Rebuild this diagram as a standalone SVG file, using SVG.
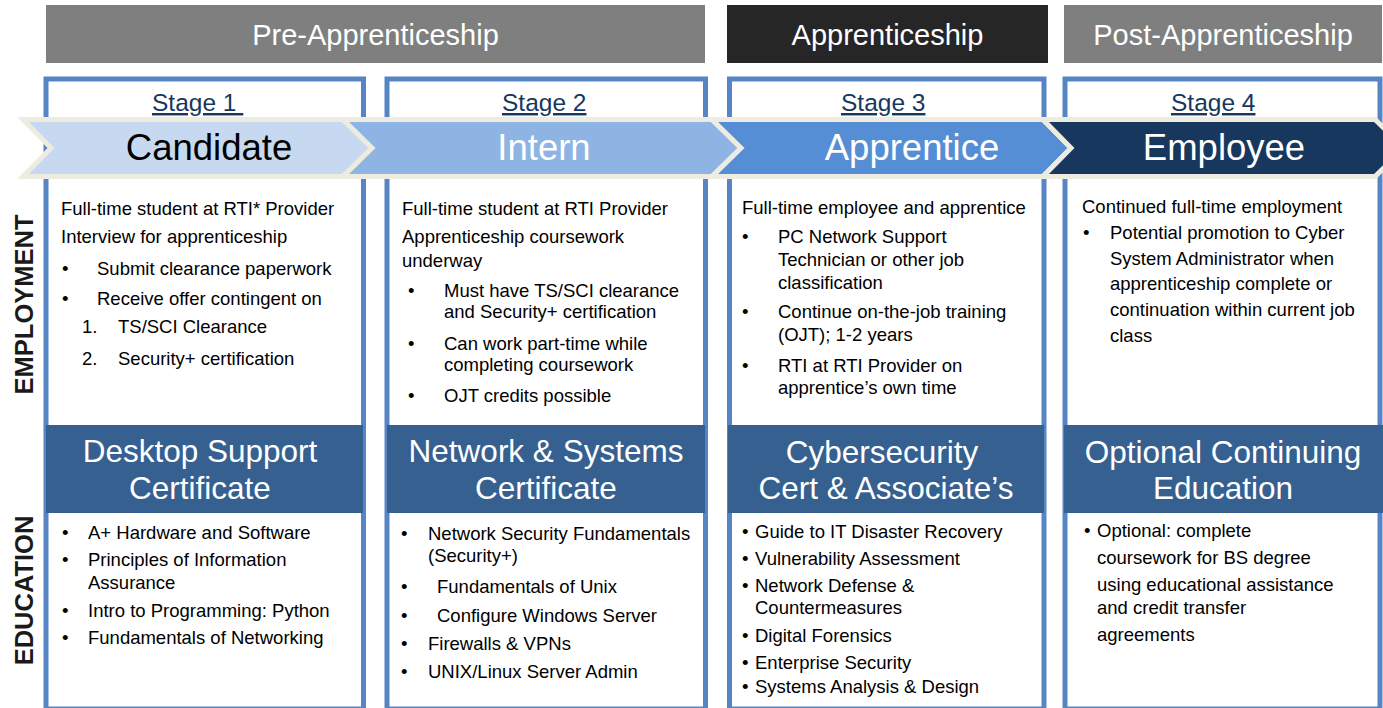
<svg xmlns="http://www.w3.org/2000/svg" width="1383" height="708" viewBox="0 0 1383 708">
<style>
text{font-family:"Liberation Sans",Arial,sans-serif}
.hdr{font-size:29px;fill:#FFFFFF;text-anchor:middle}
.box{fill:#FFFFFF;stroke:#5585C4;stroke-width:5}
.chev{stroke:#EEECE1;stroke-width:5;stroke-linejoin:miter}
.stage{font-size:24.5px;fill:#17375E;text-decoration:underline}
.ctitle{font-size:36.5px;text-anchor:middle}
.band{fill:#36608F}
.btitle{font-size:31.5px;fill:#FFFFFF;text-anchor:middle}
.t{font-size:18.5px;fill:#000000}
.side{font-size:25.5px;font-weight:bold;fill:#1A1A1A;text-anchor:middle}
</style>
<rect width="1383" height="708" fill="#FFFFFF"/>

<g id="phase-headers">
<rect x="46" y="5" width="659" height="58" fill="#7F7F7F"/>
<text class="hdr" x="375.5" y="45">Pre-Apprenticeship</text>
<rect x="727" y="5" width="321" height="58" fill="#262626"/>
<text class="hdr" x="887.5" y="45">Apprenticeship</text>
<rect x="1064" y="5" width="318" height="58" fill="#7F7F7F"/>
<text class="hdr" x="1223" y="45">Post-Apprenticeship</text>
</g>

<g id="side-labels">
<text class="side" transform="translate(33,304.5) rotate(-90)">EMPLOYMENT</text>
<text class="side" transform="translate(33,590.5) rotate(-90)">EDUCATION</text>
</g>

<g id="column-boxes">
<rect class="box" x="46" y="79" width="317.5" height="630"/>
<rect class="box" x="387" y="79" width="318.5" height="630"/>
<rect class="box" x="729.5" y="79" width="314.5" height="630"/>
<rect class="box" x="1065" y="79" width="315" height="630"/>
</g>

<g id="stage-labels">
<text class="stage" x="152" y="111">Stage 1&#160;</text>
<text class="stage" x="502" y="111">Stage 2</text>
<text class="stage" x="841" y="111">Stage 3</text>
<text class="stage" x="1171" y="111">Stage 4</text>
</g>

<g id="chevron-candidate">
<polygon class="chev" fill="#C6D9F1" points="23,119.5 343,119.5 372,148 343,176.5 23,176.5 51,148"/>
<text class="ctitle" x="209" y="160" fill="#000000">Candidate</text>
</g>
<g id="chevron-intern">
<polygon class="chev" fill="#8EB4E3" points="343,119.5 712,119.5 741,148 712,176.5 343,176.5 372,148"/>
<text class="ctitle" x="544" y="160" fill="#FFFFFF">Intern</text>
</g>
<g id="chevron-apprentice">
<polygon class="chev" fill="#558ED5" points="712,119.5 1043,119.5 1071,148 1043,176.5 712,176.5 741,148"/>
<text class="ctitle" x="912" y="160" fill="#FFFFFF">Apprentice</text>
</g>
<g id="chevron-employee">
<polygon class="chev" fill="#17375E" points="1043,119.5 1375,119.5 1404,148 1375,176.5 1043,176.5 1071,148"/>
<text class="ctitle" x="1224" y="160" fill="#FFFFFF">Employee</text>
</g>

<g id="employment-stage1">
<text class="t" x="61" y="215">Full-time student at RTI* Provider</text>
<text class="t" x="61" y="243">Interview for apprenticeship</text>
<text class="t" x="62" y="275">•</text><text class="t" x="97" y="275">Submit clearance paperwork</text>
<text class="t" x="62" y="305">•</text><text class="t" x="97" y="305">Receive offer contingent on</text>
<text class="t" x="82" y="333">1.</text><text class="t" x="118" y="333">TS/SCI Clearance</text>
<text class="t" x="82" y="365">2.</text><text class="t" x="118" y="365">Security+ certification</text>
</g>

<g id="employment-stage2">
<text class="t" x="402" y="215">Full-time student at RTI Provider</text>
<text class="t" x="402" y="243">Apprenticeship coursework</text>
<text class="t" x="402" y="267">underway</text>
<text class="t" x="408" y="297">•</text><text class="t" x="444" y="297">Must have TS/SCI clearance</text>
<text class="t" x="444" y="318">and Security+ certification</text>
<text class="t" x="408" y="350">•</text><text class="t" x="444" y="350">Can work part-time while</text>
<text class="t" x="444" y="371">completing coursework</text>
<text class="t" x="408" y="402">•</text><text class="t" x="444" y="402">OJT credits possible</text>
</g>

<g id="employment-stage3">
<text class="t" x="742" y="214">Full-time employee and apprentice</text>
<text class="t" x="742" y="243">•</text><text class="t" x="778" y="243">PC Network Support</text>
<text class="t" x="778" y="266">Technician or other job</text>
<text class="t" x="778" y="289">classification</text>
<text class="t" x="742" y="318">•</text><text class="t" x="778" y="318">Continue on-the-job training</text>
<text class="t" x="778" y="341">(OJT); 1-2 years</text>
<text class="t" x="742" y="372">•</text><text class="t" x="778" y="372">RTI at RTI Provider on</text>
<text class="t" x="778" y="394">apprentice’s own time</text>
</g>

<g id="employment-stage4">
<text class="t" x="1082" y="213">Continued full-time employment</text>
<text class="t" x="1083" y="239">•</text><text class="t" x="1110" y="239">Potential promotion to Cyber</text>
<text class="t" x="1110" y="265">System Administrator when</text>
<text class="t" x="1110" y="290">apprenticeship complete or</text>
<text class="t" x="1110" y="316">continuation within current job</text>
<text class="t" x="1110" y="342">class</text>
</g>

<g id="education-stage1">
<rect class="band" x="46" y="425" width="317" height="88"/>
<text class="btitle" x="200" y="462">Desktop Support</text>
<text class="btitle" x="200" y="499">Certificate</text>
<text class="t" x="62" y="539">•</text><text class="t" x="88" y="539">A+ Hardware and Software</text>
<text class="t" x="62" y="566">•</text><text class="t" x="88" y="566">Principles of Information</text>
<text class="t" x="88" y="589">Assurance</text>
<text class="t" x="62" y="617">•</text><text class="t" x="88" y="617">Intro to Programming: Python</text>
<text class="t" x="62" y="644">•</text><text class="t" x="88" y="644">Fundamentals of Networking</text>
</g>

<g id="education-stage2">
<rect class="band" x="387" y="425" width="318" height="88"/>
<text class="btitle" x="546" y="462">Network &amp; Systems</text>
<text class="btitle" x="546" y="499">Certificate</text>
<text class="t" x="401" y="540">•</text><text class="t" x="428" y="540">Network Security Fundamentals</text>
<text class="t" x="428" y="562">(Security+)</text>
<text class="t" x="401" y="593">•</text><text class="t" x="437" y="593">Fundamentals of Unix</text>
<text class="t" x="401" y="622">•</text><text class="t" x="437" y="622">Configure Windows Server</text>
<text class="t" x="401" y="650">•</text><text class="t" x="428" y="650">Firewalls &amp; VPNs</text>
<text class="t" x="401" y="678">•</text><text class="t" x="428" y="678">UNIX/Linux Server Admin</text>
</g>

<g id="education-stage3">
<rect class="band" x="728" y="425" width="316" height="88"/>
<text class="btitle" x="882" y="463">Cybersecurity</text>
<text class="btitle" x="886" y="499">Cert &amp; Associate’s</text>
<text class="t" x="742" y="538">•</text><text class="t" x="755" y="538">Guide to IT Disaster Recovery</text>
<text class="t" x="742" y="565">•</text><text class="t" x="755" y="565">Vulnerability Assessment</text>
<text class="t" x="742" y="592">•</text><text class="t" x="755" y="592">Network Defense &amp;</text>
<text class="t" x="755" y="614">Countermeasures</text>
<text class="t" x="742" y="642">•</text><text class="t" x="755" y="642">Digital Forensics</text>
<text class="t" x="742" y="669">•</text><text class="t" x="755" y="669">Enterprise Security</text>
<text class="t" x="742" y="693">•</text><text class="t" x="755" y="693">Systems Analysis &amp; Design</text>
</g>

<g id="education-stage4">
<rect class="band" x="1064" y="425" width="319" height="88"/>
<text class="btitle" x="1223" y="463">Optional Continuing</text>
<text class="btitle" x="1223" y="499">Education</text>
<text class="t" x="1084" y="537">•</text><text class="t" x="1097" y="537">Optional: complete</text>
<text class="t" x="1097" y="564">coursework for BS degree</text>
<text class="t" x="1097" y="591">using educational assistance</text>
<text class="t" x="1097" y="614">and credit transfer</text>
<text class="t" x="1097" y="641">agreements</text>
</g>
</svg>
